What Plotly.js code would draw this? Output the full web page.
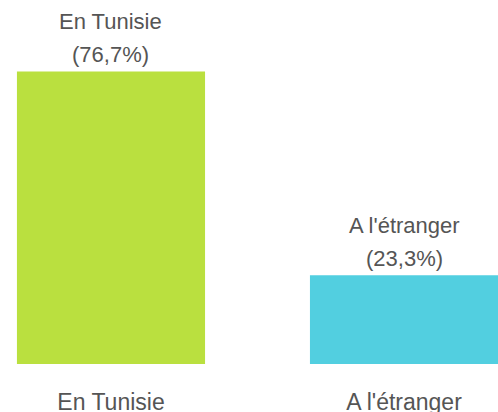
<!DOCTYPE html>
<html><head><meta charset="utf-8">
<script src="https://cdn.plot.ly/plotly-3.0.1.min.js"></script>
<style>html,body{margin:0;padding:0;background:#fff}#c{width:498px;height:412px}</style>
</head><body><div id="c"></div>
<script>
const categories = ["En Tunisie", "A l'étranger"];
const values = [76.7, 23.3];
const valueLabels = ["(76,7%)", "(23,3%)"];
const colors = ["#BAE03F", "#52CFE0"];

const font = {family: "Liberation Sans, Arial, sans-serif", size: 22, color: "#555555"};
const tickFont = {family: "Liberation Sans, Arial, sans-serif", size: 23, color: "#555555"};
const annotations = [];
categories.forEach((c, i) => {
  annotations.push({x: c, y: values[i], xref: "x", yref: "y", text: valueLabels[i],
    showarrow: false, yanchor: "middle", yshift: 17, font: font});
  annotations.push({x: c, y: values[i], xref: "x", yref: "y", text: c,
    showarrow: false, yanchor: "middle", yshift: 50, font: font});
});

Plotly.newPlot("c", [{
  type: "bar", x: categories, y: values, width: 0.642,
  marker: {color: colors}, hoverinfo: "none"
}], {
  width: 498, height: 412,
  margin: {l: 0, r: 0, t: 59, b: 48, pad: 0},
  paper_bgcolor: "#fff", plot_bgcolor: "#fff",
  showlegend: false,
  xaxis: {type: "category", range: [-0.3788, 1.3208], showgrid: false, zeroline: false,
    showline: false, ticks: "", tickfont: tickFont, ticklabelstandoff: 22, fixedrange: true},
  yaxis: {range: [0, 80], visible: false, showgrid: false, zeroline: false, fixedrange: true},
  annotations: annotations
}, {displayModeBar: false, staticPlot: true});
</script></body></html>
